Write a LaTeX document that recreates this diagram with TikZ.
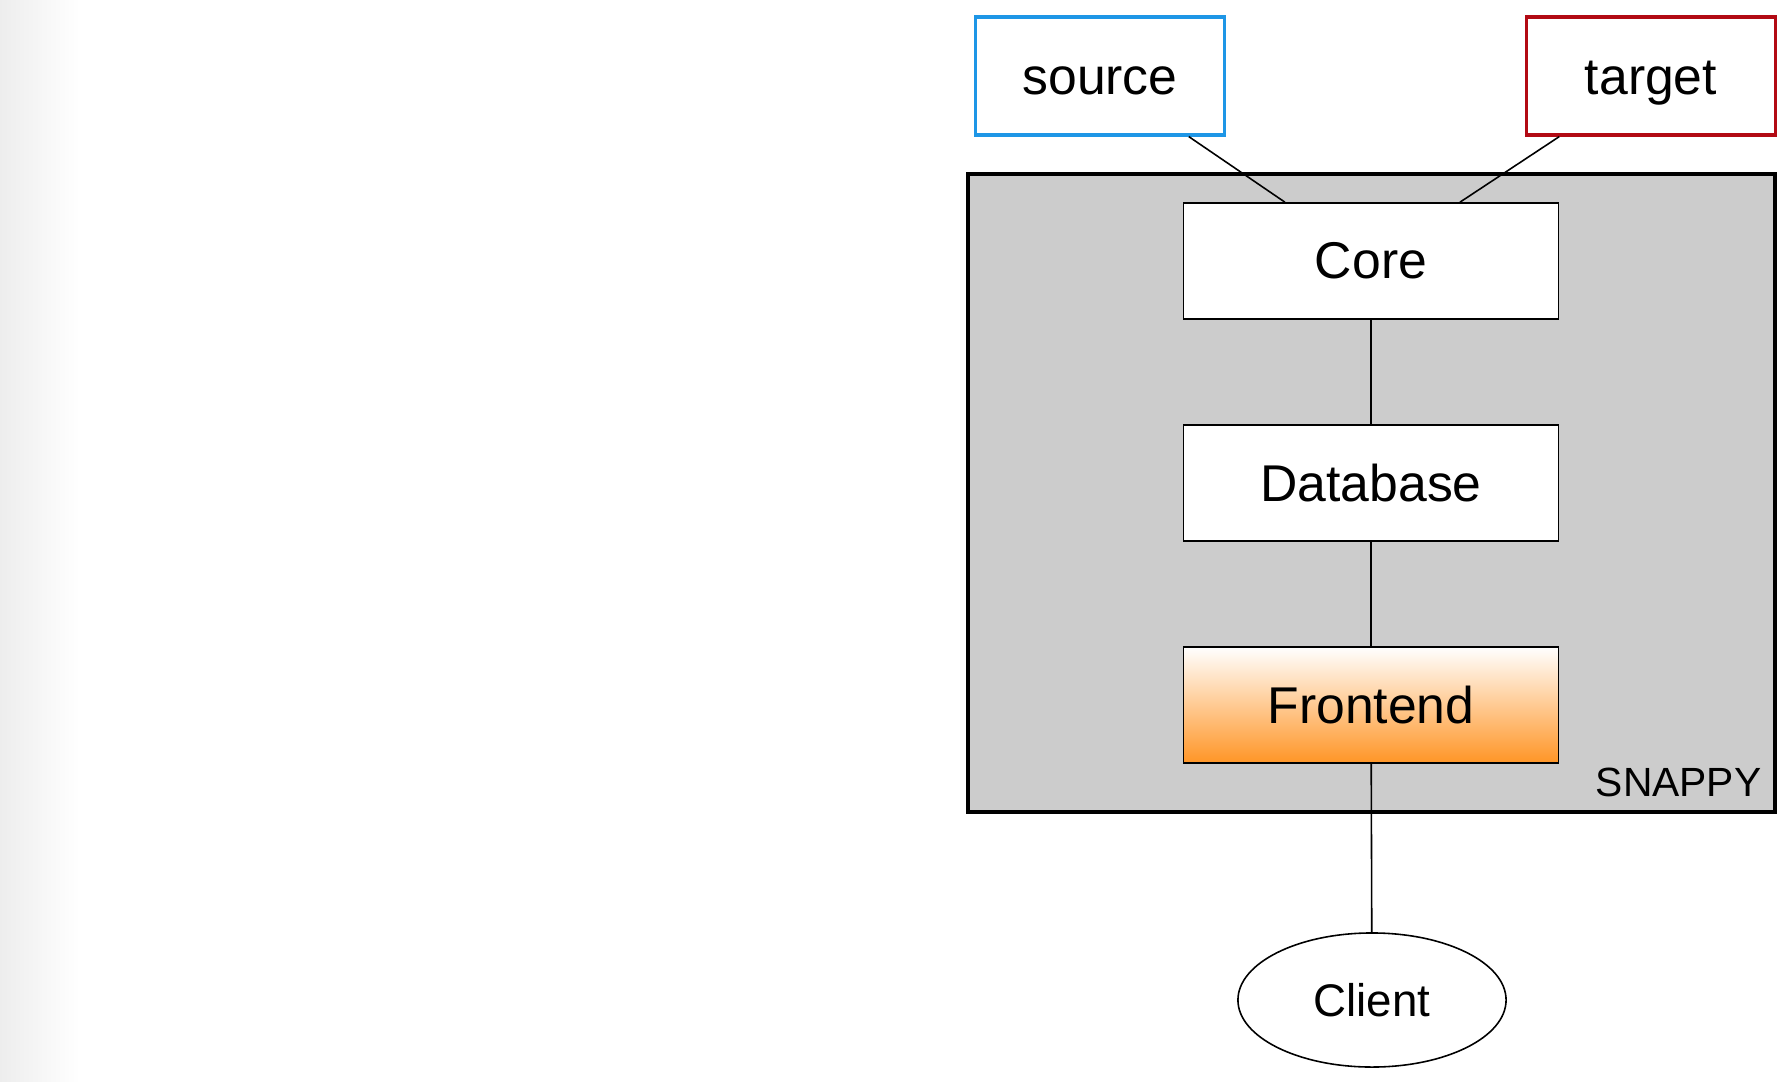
\documentclass[tikz,border=0pt]{standalone}
\usepackage{fontspec}
\setmainfont{Liberation Sans}
\usepackage{xcolor}
\usetikzlibrary{
    shapes,
    positioning
}
\definecolor{srcblue}{HTML}{1E96E6}
\definecolor{tgtred}{HTML}{B20A14}
\definecolor{snapgray}{HTML}{CCCCCC}
\definecolor{feorange}{HTML}{FF9526}

\tikzset{
    comp/.style={draw, line width=0.45pt, fill=white, minimum width=3.75cm, minimum height=1.16cm, inner sep=0pt, font=\fontsize{14.7}{17}\selectfont},
    ext/.style={draw, line width=0.9pt, fill=white, minimum width=2.49cm, minimum height=1.18cm, inner sep=0pt, text height=10.5pt, text depth=0pt, font=\fontsize{14.7}{17}\selectfont},
    link/.style={line width=0.45pt}
}

\begin{document}
\begin{tikzpicture}[x=0.01cm, y=-0.01cm]
                                \useasboundingbox (0, 0) rectangle (1788, 1082);
                                \fill[white] (0, 0) rectangle (1788, 1082);
                                \shade[left color=black!7, right color=white] (0, 0) rectangle (80, 1082);

                                \node[draw, line width=1.2pt, fill=snapgray, minimum width=8.07cm, minimum height=6.38cm] (snappy) at (1371.5, 493) {};
                                \node[anchor=south east, inner sep=0pt, font=\fontsize{11.6}{14}\selectfont] (snaplbl) at (1762, 798) {SNAPPY};

                                \node[ext, draw=srcblue] (src) at (1100, 76) {source};
                                \node[ext, draw=tgtred] (tgt) at (1651, 76) {target};
                                \node[comp] (core) at (1371, 261) {Core};
                                \node[comp] (db) at (1371, 483) {Database};
                                \node[comp, top color=white, bottom color=feorange] (fe) at (1371, 705) {Frontend};
                                \node[draw, ellipse, line width=0.45pt, minimum width=2.68cm, minimum height=1.34cm, inner sep=0pt, font=\fontsize{13}{15}\selectfont] (client) at (1372, 1000) {Client};

                                \draw[link]
                                (src) edge (core)
                                (tgt) edge (core)
                                (core) edge (db)
                                (db) edge (fe)
                                (fe) edge (client);
                            \end{tikzpicture}
\end{document}
